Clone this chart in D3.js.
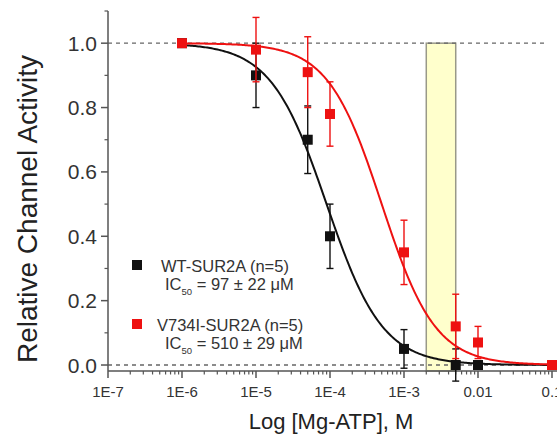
<!DOCTYPE html>
<html>
<head>
<meta charset="utf-8">
<script src="https://cdn.jsdelivr.net/npm/d3@7"></script>
<style>
  html, body { margin: 0; padding: 0; background: #fff; }
  svg { display: block; font-family: "Liberation Sans", Arial, Helvetica, sans-serif; }
</style>
</head>
<body>
<svg id="chart" width="557" height="437"></svg>
<script>
// ---- data ----
const concentrations = [1e-6, 1e-5, 5e-5, 1e-4, 1e-3, 5e-3, 1e-2, 1e-1];
const wtValues   = [1.00, 0.90, 0.70, 0.40, 0.05, 0.00, 0.00, null];
const wtErrors   = [0.00, 0.10, 0.105, 0.10, 0.06, 0.05, 0.01, null];
const mutValues  = [1.00, 0.98, 0.91, 0.78, 0.35, 0.12, 0.07, 0.00];
const mutErrors  = [0.00, 0.10, 0.11, 0.10, 0.10, 0.10, 0.05, 0.00];
const seriesNames = ["WT-SUR2A (n=5)", "V734I-SUR2A (n=5)"];
const ic50Labels = ["97 ± 22 μM", "510 ± 29 μM"];
// Hill-fit parameters
const fitIC50 = [9.0e-5, 5.0e-4];
const fitHill = [1.15, 1.2];
const xTickValues = [1e-7, 1e-6, 1e-5, 1e-4, 1e-3, 1e-2, 1e-1];
const xTickLabels = ["1E-7", "1E-6", "1E-5", "1E-4", "1E-3", "0.01", "0.1"];
const yTickValues = [0, 0.2, 0.4, 0.6, 0.8, 1.0];
const yTickLabels = ["0.0", "0.2", "0.4", "0.6", "0.8", "1.0"];
const physRange = [2e-3, 5e-3]; // shaded band
const refLines = [1.0, 0.0];

// ---- scales ----
const svg = d3.select("#chart");
const x = d3.scaleLog().domain([1e-7, 0.1]).range([108, 552]);
const y = d3.scaleLinear().domain([-0.0186, 1.1]).range([371, 11]);
const colors = ["#111111", "#ee1111"];
const axisColor = "#555555";

// shaded band
svg.append("rect")
  .attr("x", x(physRange[0]))
  .attr("y", y(1.0))
  .attr("width", x(physRange[1]) - x(physRange[0]))
  .attr("height", y.range()[0] - y(1.0))
  .attr("fill", "#ffffcc")
  .attr("stroke", "#999988")
  .attr("stroke-width", 1.5);

// reference dashed lines
svg.selectAll("line.ref").data(refLines).enter().append("line")
  .attr("class", "ref")
  .attr("x1", x.range()[0])
  .attr("x2", (d) => d === 1 ? 546 : 557)
  .attr("y1", d => y(d)).attr("y2", d => y(d))
  .attr("stroke", "#666")
  .attr("stroke-width", 1.3)
  .attr("stroke-dasharray", "4,4");

// axes
const xAxis = svg.append("g").attr("transform", `translate(0,${y.range()[0]})`);
xAxis.append("line").attr("x1", x.range()[0]).attr("x2", 557)
  .attr("stroke", axisColor).attr("stroke-width", 1.5);
const minorX = [];
for (let e = -7; e < -1; e++) for (let m = 2; m <= 9; m++) minorX.push(m * Math.pow(10, e));
xAxis.selectAll("line.minor").data(minorX).enter().append("line")
  .attr("x1", d => x(d)).attr("x2", d => x(d)).attr("y1", 0).attr("y2", 3.5)
  .attr("stroke", axisColor).attr("stroke-width", 1.2);
xAxis.selectAll("line.major").data(xTickValues).enter().append("line")
  .attr("x1", d => x(d)).attr("x2", d => x(d)).attr("y1", 0).attr("y2", 7)
  .attr("stroke", axisColor).attr("stroke-width", 1.5);
xAxis.selectAll("text").data(xTickValues).enter().append("text")
  .attr("x", d => x(d)).attr("y", 26)
  .attr("text-anchor", "middle").attr("font-size", 15).attr("fill", "#333")
  .text((d, i) => xTickLabels[i]);

const yAxis = svg.append("g").attr("transform", `translate(${x.range()[0]},0)`);
yAxis.append("line").attr("y1", y(1.1)).attr("y2", y.range()[0])
  .attr("stroke", axisColor).attr("stroke-width", 1.5);
const minorY = [0.1, 0.3, 0.5, 0.7, 0.9, 1.1];
yAxis.selectAll("line.minor").data(minorY).enter().append("line")
  .attr("x1", 0).attr("x2", -3.5).attr("y1", d => y(d)).attr("y2", d => y(d))
  .attr("stroke", axisColor).attr("stroke-width", 1.2);
yAxis.selectAll("line.major").data(yTickValues).enter().append("line")
  .attr("x1", 0).attr("x2", -7).attr("y1", d => y(d)).attr("y2", d => y(d))
  .attr("stroke", axisColor).attr("stroke-width", 1.5);
yAxis.selectAll("text").data(yTickValues).enter().append("text")
  .attr("x", -11).attr("y", d => y(d) + 7.5)
  .attr("text-anchor", "end").attr("font-size", 21).attr("fill", "#333")
  .text((d, i) => yTickLabels[i]);

// titles
svg.append("text").attr("x", 331).attr("y", 429).attr("text-anchor", "middle")
  .attr("font-size", 22).attr("fill", "#222").text("Log [Mg-ATP], M");
svg.append("text").attr("transform", "translate(37,209) rotate(-90)")
  .attr("text-anchor", "middle").attr("font-size", 28).attr("fill", "#222")
  .text("Relative Channel Activity");

// fitted curves
const curveX = d3.range(-6, -0.999, 0.02).map(e => Math.pow(10, e));
const line = d3.line().x(d => x(d[0])).y(d => y(d[1]));
[0, 1].forEach(s => {
  const pts = curveX.map(c => [c, 1 / (1 + Math.pow(c / fitIC50[s], fitHill[s]))]);
  svg.append("path").datum(pts).attr("d", line)
    .attr("fill", "none").attr("stroke", colors[s]).attr("stroke-width", 2);
});

// error bars + markers
const seriesVals = [wtValues, mutValues];
const seriesErr = [wtErrors, mutErrors];
[0, 1].forEach(s => {
  const pts = concentrations.map((c, i) => ({c, v: seriesVals[s][i], e: seriesErr[s][i]}))
    .filter(d => d.v !== null);
  const g = svg.append("g").attr("stroke", colors[s]).attr("stroke-width", 1.4);
  pts.filter(d => d.e > 0.015).forEach(d => {
    g.append("line").attr("x1", x(d.c)).attr("x2", x(d.c))
      .attr("y1", y(d.v - d.e)).attr("y2", y(d.v + d.e));
    [d.v - d.e, d.v + d.e].forEach(v => g.append("line")
      .attr("x1", x(d.c) - 3.5).attr("x2", x(d.c) + 3.5)
      .attr("y1", y(v)).attr("y2", y(v)));
  });
  svg.append("g").selectAll("rect").data(pts).enter().append("rect")
    .attr("x", d => x(d.c) - 5).attr("y", d => y(d.v) - 5)
    .attr("width", 10).attr("height", 10).attr("fill", colors[s]);
});

// legend
const legendY = [265, 324];
[0, 1].forEach(s => {
  svg.append("rect").attr("x", 132).attr("y", legendY[s] - 5)
    .attr("width", 10).attr("height", 10).attr("fill", colors[s]);
  svg.append("text").attr("x", s === 0 ? 161 : 157).attr("y", legendY[s] + 6.5)
    .attr("font-size", 16.5).attr("fill", "#333").text(seriesNames[s]);
  const t = svg.append("text").attr("x", 165).attr("y", legendY[s] + 25)
    .attr("font-size", 16.5).attr("fill", "#333");
  t.append("tspan").text("IC");
  t.append("tspan").attr("font-size", 9.5).attr("dy", 5).text("50");
  t.append("tspan").attr("dy", -5).text(" = " + ic50Labels[s]);
});
</script>
</body>
</html>
